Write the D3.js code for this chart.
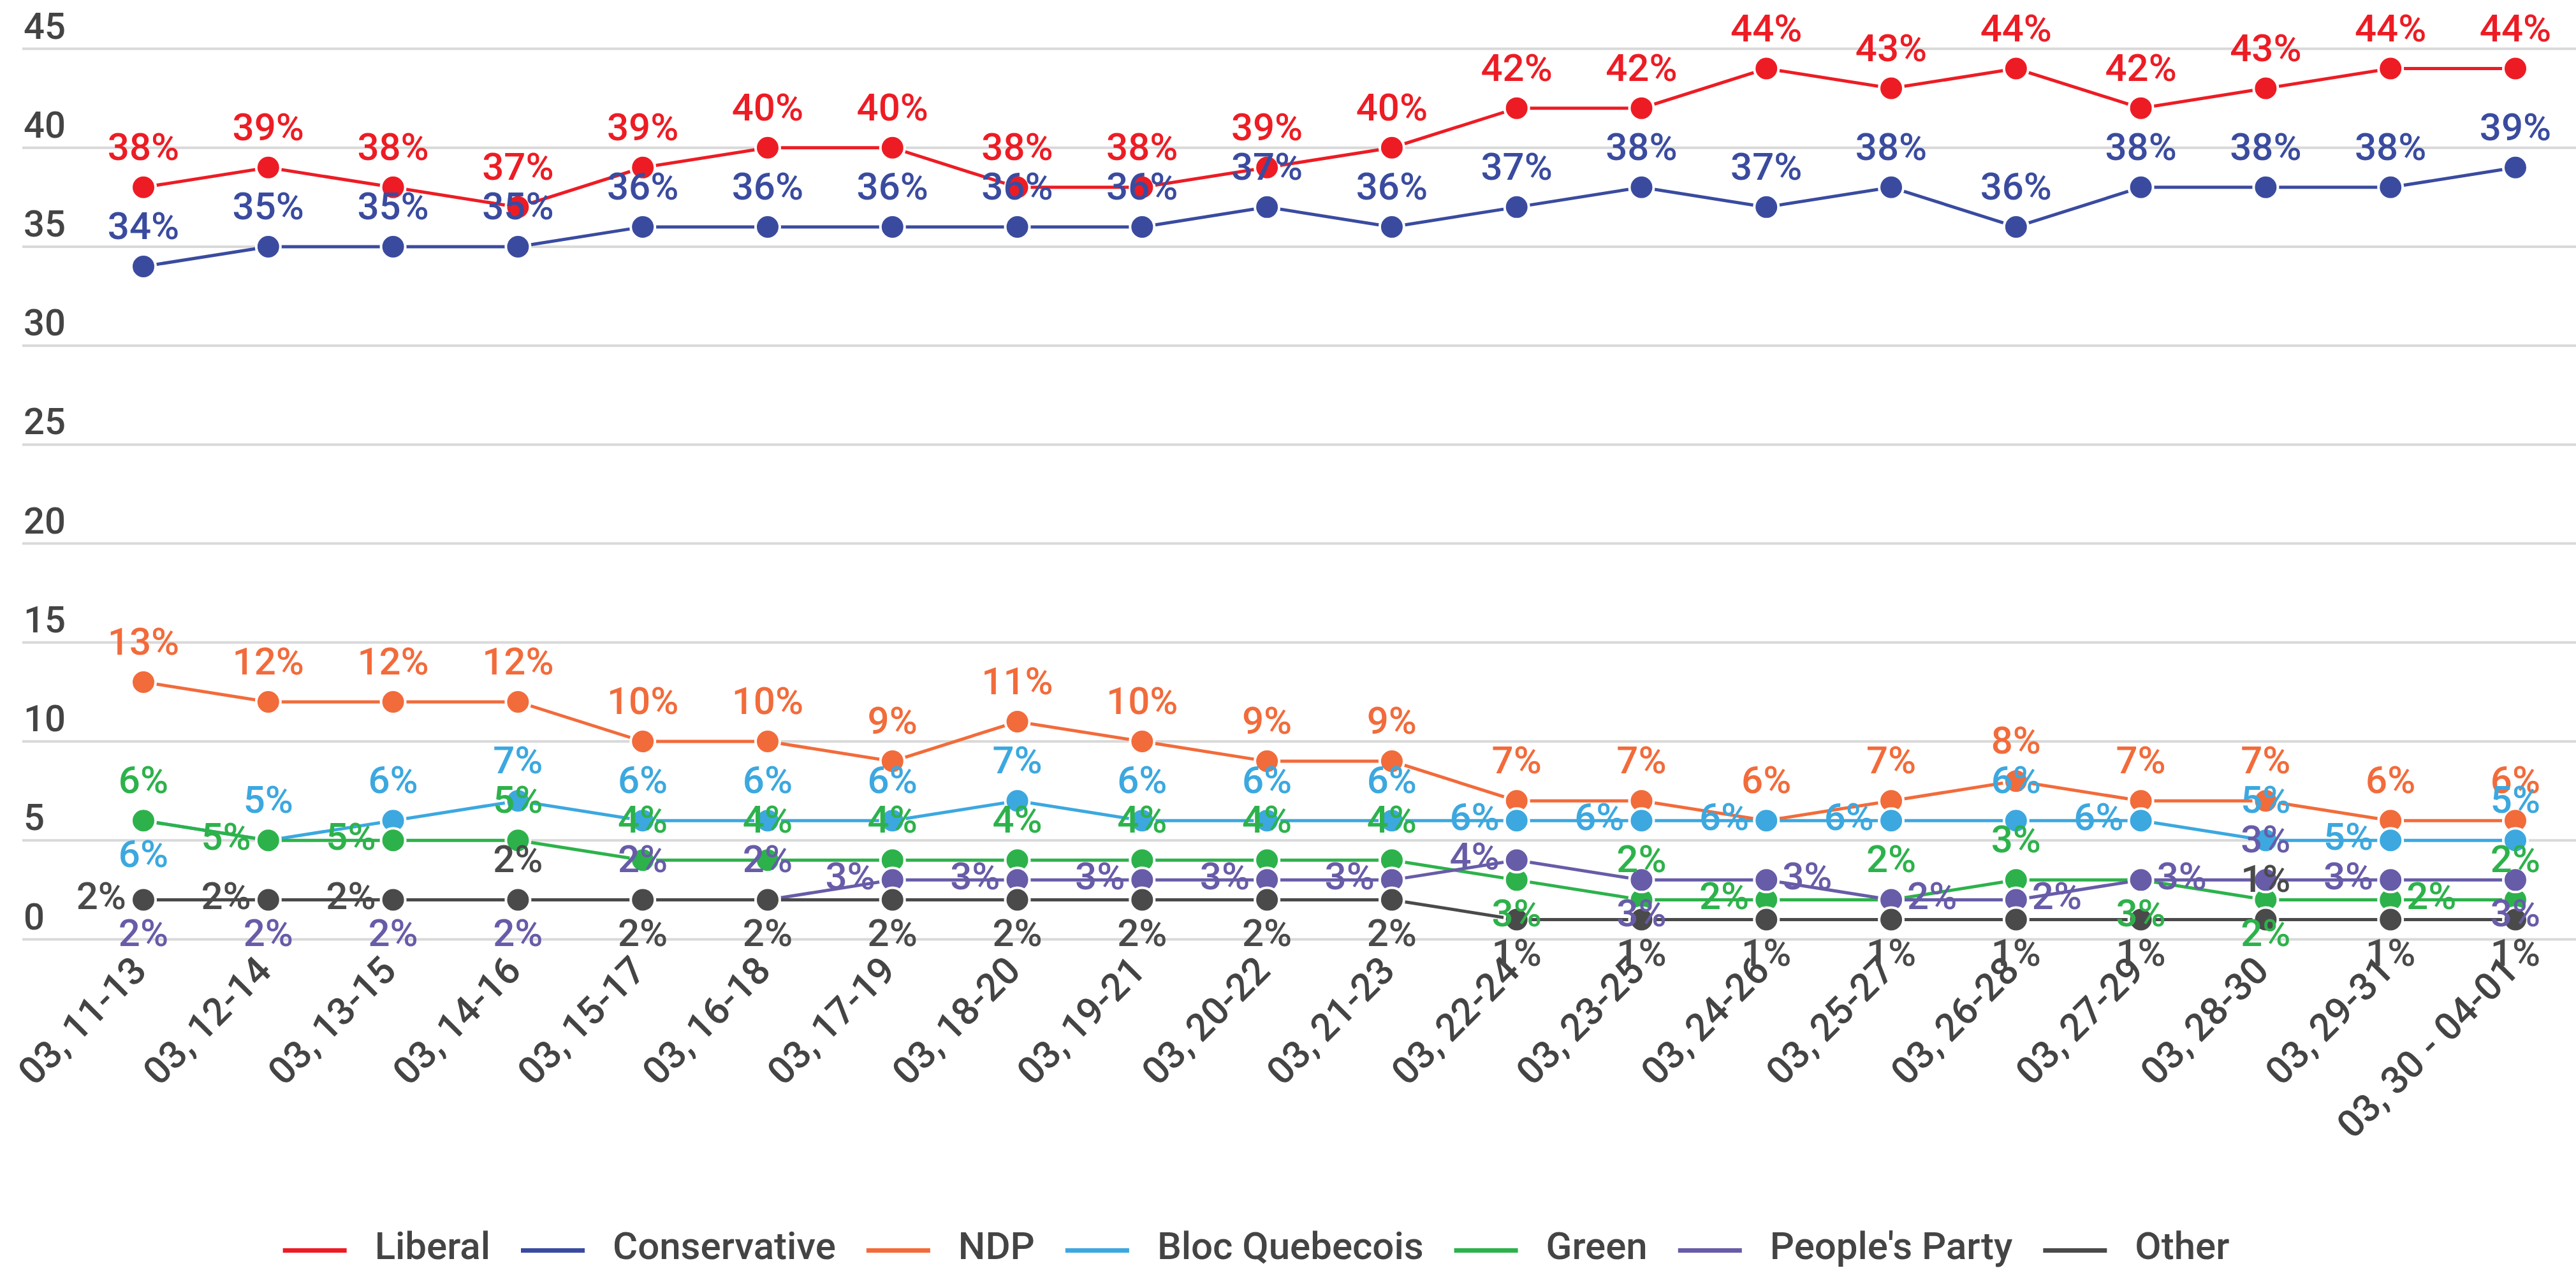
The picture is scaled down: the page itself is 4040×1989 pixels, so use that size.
<!DOCTYPE html>
<html>
<head>
<meta charset="utf-8">
<script src="https://cdn.jsdelivr.net/npm/d3@7"></script>
<style>
  body { margin: 0; background: #fff; }
  text { font-family: Roboto, "Noto Sans", sans-serif; }
</style>
</head>
<body>
<div id="chart"></div>
<script>
let W = 4040, H = 1989;

let dates = ["03, 11-13", "03, 12-14", "03, 13-15", "03, 14-16", "03, 15-17", "03, 16-18",
    "03, 17-19", "03, 18-20", "03, 19-21", "03, 20-22", "03, 21-23", "03, 22-24", "03, 23-25",
    "03, 24-26", "03, 25-27", "03, 26-28", "03, 27-29", "03, 28-30", "03, 29-31", "03, 30 - 04-01"];
let yTicks = [0, 5, 10, 15, 20, 25, 30, 35, 40, 45];

let liberal      = [38, 39, 38, 37, 39, 40, 40, 38, 38, 39, 40, 42, 42, 44, 43, 44, 42, 43, 44, 44];
let conservative = [34, 35, 35, 35, 36, 36, 36, 36, 36, 37, 36, 37, 38, 37, 38, 36, 38, 38, 38, 39];
let ndp          = [13, 12, 12, 12, 10, 10, 9, 11, 10, 9, 9, 7, 7, 6, 7, 8, 7, 7, 6, 6];
let bloc         = [6, 5, 6, 7, 6, 6, 6, 7, 6, 6, 6, 6, 6, 6, 6, 6, 6, 5, 5, 5];
let green        = [6, 5, 5, 5, 4, 4, 4, 4, 4, 4, 4, 3, 2, 2, 2, 3, 3, 2, 2, 2];
let peoples      = [2, 2, 2, 2, 2, 2, 3, 3, 3, 3, 3, 4, 3, 3, 2, 2, 3, 3, 3, 3];
let other        = [2, 2, 2, 2, 2, 2, 2, 2, 2, 2, 2, 1, 1, 1, 1, 1, 1, 1, 1, 1];

// where each value label sits: t = above, b = below, l = left, r = right
let allTop      = "t t t t t t t t t t t t t t t t t t t t".split(" ");
let blocSide    = "b t t t t t t t t t t l l l l t l t l t".split(" ");
let greenSide   = "t l l t t t t t t t t b t l t t b b r t".split(" ");
let peoplesSide = "b b b b t t l l l l l l b r r r r t l b".split(" ");
let otherSide   = "l l l t b b b b b b b b b b b b b t b b".split(" ");

let series = [
    {name: "Liberal", color: "#ED1C24", values: liberal, side: allTop},
    {name: "Conservative", color: "#3A4B9F", values: conservative, side: allTop},
    {name: "NDP", color: "#F26B3B", values: ndp, side: allTop},
    {name: "Bloc Quebecois", color: "#3CA8DF", values: bloc, side: blocSide},
    {name: "Green", color: "#2DB24B", values: green, side: greenSide},
    {name: "People's Party", color: "#675CA8", values: peoples, side: peoplesSide},
    {name: "Other", color: "#4A4A4A", values: other, side: otherSide}
];

let svg = d3.select("#chart").append("svg")
    .attr("width", W)
    .attr("height", H);
svg.append("rect").attr("width", W).attr("height", H).attr("fill", "#fff");

let x = d3.scalePoint().domain(dates).range([225, 3945]);
let y = d3.scaleLinear().domain([0, 45]).range([1473.5, 76.5]);

// grid + y labels
let grid = svg.append("g");
grid.selectAll("line")
    .data(yTicks)
    .enter()
    .append("line")
    .attr("x1", 35)
    .attr("x2", W)
    .attr("y1", d => y(d))
    .attr("y2", d => y(d))
    .attr("stroke", "#d9d9d9")
    .attr("stroke-width", 4);
grid.selectAll("text")
    .data(yTicks)
    .enter()
    .append("text")
    .attr("x", 37)
    .attr("y", d => y(d) - 16)
    .attr("font-size", 58)
    .attr("font-weight", 500)
    .attr("fill", "#444")
    .text(d => d);

// x labels
svg.append("g").selectAll("text")
    .data(dates)
    .enter()
    .append("text")
    .attr("text-anchor", "end")
    .attr("font-size", 60)
    .attr("font-weight", 500)
    .attr("fill", "#444")
    .attr("transform", d => `translate(${x(d) + 8}, 1526) rotate(-45)`)
    .text(d => d);

let line = d3.line()
    .x((d, i) => x(dates[i]))
    .y(d => y(d));

let marks = svg.append("g");
series.forEach(s => {
    let g = marks.append("g");
    g.append("path")
        .attr("d", line(s.values))
        .attr("fill", "none")
        .attr("stroke", s.color)
        .attr("stroke-width", 5);
    g.selectAll("circle")
        .data(s.values)
        .enter()
        .append("circle")
        .attr("cx", (d, i) => x(dates[i]))
        .attr("cy", d => y(d))
        .attr("r", 19)
        .attr("fill", s.color)
        .attr("stroke", "#fff")
        .attr("stroke-width", 4);
});

// value labels on top of everything
let labels = svg.append("g");
series.forEach(s => {
    labels.append("g").selectAll("text")
        .data(s.values)
        .enter()
        .append("text")
        .attr("font-size", 60)
        .attr("font-weight", 500)
        .attr("fill", s.color)
        .attr("text-anchor", (d, i) => {
            let p = s.side[i];
            return p == "l" ? "end" : p == "r" ? "start" : "middle";
        })
        .attr("x", (d, i) => {
            let p = s.side[i], cx = x(dates[i]);
            return p == "l" ? cx - 27 : p == "r" ? cx + 25 : cx;
        })
        .attr("y", (d, i) => {
            let p = s.side[i], cy = y(d);
            return p == "t" ? cy - 43 : p == "b" ? cy + 73 : cy + 15;
        })
        .text(d => d + "%");
});

// legend
let legend = svg.append("g");
let lx = 0;
series.forEach(s => {
    let item = legend.append("g").attr("transform", `translate(${lx}, 0)`);
    item.append("rect")
        .attr("x", 0)
        .attr("y", 1958)
        .attr("width", 100)
        .attr("height", 7)
        .attr("fill", s.color);
    let t = item.append("text")
        .attr("x", 144)
        .attr("y", 1975)
        .attr("font-size", 60)
        .attr("font-weight", 500)
        .attr("fill", "#444")
        .text(s.name);
    lx += 144 + t.node().getComputedTextLength() + 48;
});
let legendW = lx - 48;
legend.attr("transform", `translate(${1970 - legendW / 2}, 0)`);
</script>
</body>
</html>
